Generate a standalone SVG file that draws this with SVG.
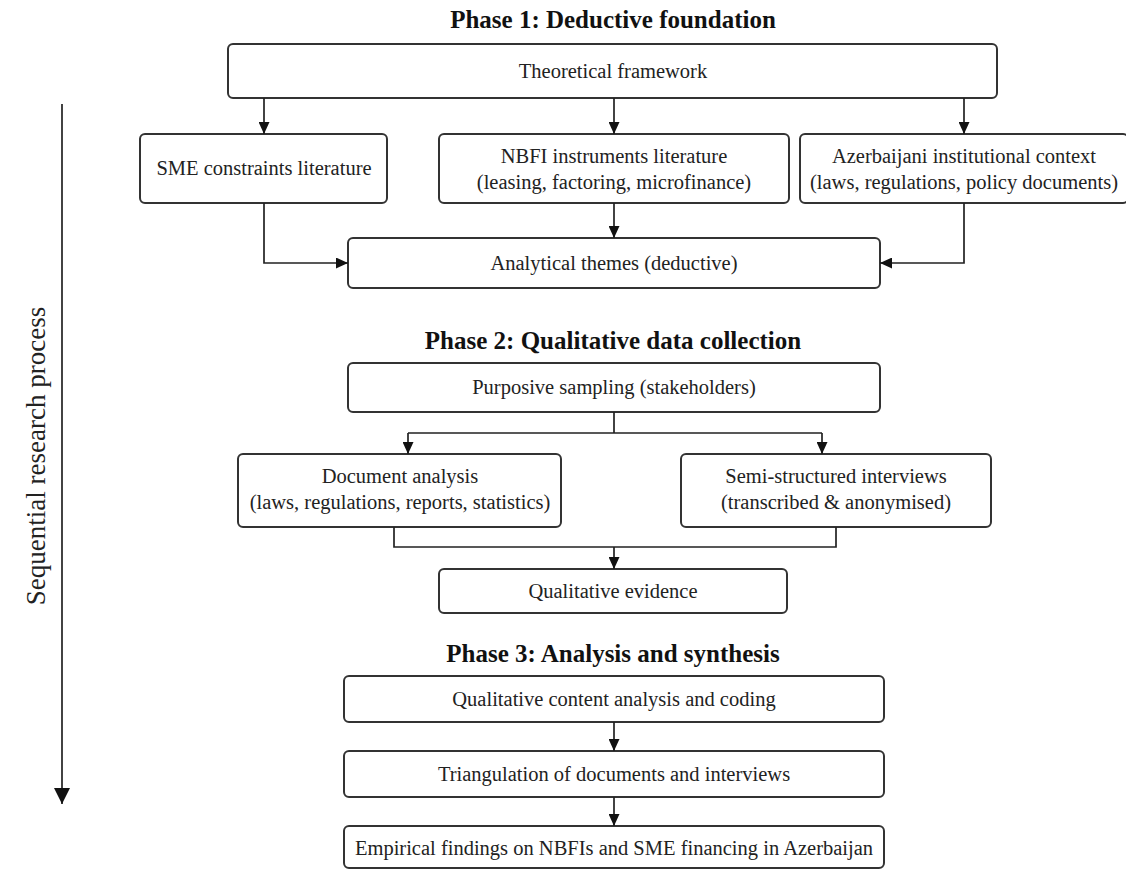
<svg xmlns="http://www.w3.org/2000/svg" width="1126" height="870" viewBox="0 0 1126 870">
<style>
.box{fill:#fff;stroke:#333;stroke-width:2}
.t{font-family:"Liberation Serif",serif;font-size:20.5px;fill:#222;text-anchor:middle}
.h{font-family:"Liberation Serif",serif;font-size:25px;font-weight:bold;fill:#111;text-anchor:middle}
.c{fill:none;stroke:#222;stroke-width:1.7}
</style>
<defs>
<marker id="ah" markerUnits="userSpaceOnUse" markerWidth="12" markerHeight="11" refX="12" refY="5.5" orient="auto">
<path d="M0,0 L12,5.5 L0,11 z" fill="#111"/>
</marker>
<marker id="ah2" markerUnits="userSpaceOnUse" markerWidth="16" markerHeight="16" refX="16" refY="8" orient="auto">
<path d="M0,0 L16,8 L0,16 z" fill="#111"/>
</marker>
</defs>
<rect width="1126" height="870" fill="#fff"/>
<text class="h" x="613" y="28">Phase 1: Deductive foundation</text>
<text class="h" x="613" y="349">Phase 2: Qualitative data collection</text>
<text class="h" x="613" y="662">Phase 3: Analysis and synthesis</text>
<g id="side">
<line x1="62" y1="104" x2="62" y2="804" class="c" stroke-width="2.5" marker-end="url(#ah2)"/>
<text class="t" style="font-size:27px" transform="translate(45,456) rotate(-90)">Sequential research process</text>
</g>
<g id="n-framework"><rect class="box" x="228" y="44" width="769" height="54" rx="5"/><text class="t" x="613" y="78">Theoretical framework</text></g>
<g id="n-sme"><rect class="box" x="140" y="134" width="247" height="69" rx="5"/><text class="t" x="264" y="175">SME constraints literature</text></g>
<g id="n-nbfi"><rect class="box" x="439" y="134" width="350" height="69" rx="5"/><text class="t" x="614" y="163">NBFI instruments literature</text><text class="t" x="614" y="189">(leasing, factoring, microfinance)</text></g>
<g id="n-azer"><rect class="box" x="800" y="134" width="328" height="69" rx="5"/><text class="t" x="964" y="163">Azerbaijani institutional context</text><text class="t" x="964" y="189">(laws, regulations, policy documents)</text></g>
<g id="n-themes"><rect class="box" x="348" y="238" width="532" height="50" rx="5"/><text class="t" x="614" y="270">Analytical themes (deductive)</text></g>
<g id="n-purposive"><rect class="box" x="348" y="363" width="532" height="49" rx="5"/><text class="t" x="614" y="394">Purposive sampling (stakeholders)</text></g>
<g id="n-doc"><rect class="box" x="238" y="454" width="323" height="73" rx="5"/><text class="t" x="400" y="483">Document analysis</text><text class="t" x="400" y="509">(laws, regulations, reports, statistics)</text></g>
<g id="n-semi"><rect class="box" x="681" y="454" width="310" height="73" rx="5"/><text class="t" x="836" y="483">Semi-structured interviews</text><text class="t" x="836" y="509">(transcribed &amp; anonymised)</text></g>
<g id="n-evidence"><rect class="box" x="439" y="569" width="348" height="44" rx="5"/><text class="t" x="613" y="598">Qualitative evidence</text></g>
<g id="n-coding"><rect class="box" x="344" y="676" width="540" height="46" rx="5"/><text class="t" x="614" y="706">Qualitative content analysis and coding</text></g>
<g id="n-triang"><rect class="box" x="344" y="751" width="540" height="46" rx="5"/><text class="t" x="614" y="781">Triangulation of documents and interviews</text></g>
<g id="n-findings"><rect class="box" x="344" y="826" width="540" height="42" rx="5"/><text class="t" x="614" y="855">Empirical findings on NBFIs and SME financing in Azerbaijan</text></g>
<g id="connectors">
<line class="c" x1="264" y1="98" x2="264" y2="134" marker-end="url(#ah)"/>
<line class="c" x1="614" y1="98" x2="614" y2="134" marker-end="url(#ah)"/>
<line class="c" x1="964" y1="98" x2="964" y2="134" marker-end="url(#ah)"/>
<path class="c" d="M264,203 V263 H348" marker-end="url(#ah)"/>
<line class="c" x1="614" y1="203" x2="614" y2="238" marker-end="url(#ah)"/>
<path class="c" d="M964,203 V263 H880" marker-end="url(#ah)"/>
<path class="c" d="M614,412 V433 M408,433 H822"/>
<line class="c" x1="408" y1="433" x2="408" y2="454" marker-end="url(#ah)"/>
<line class="c" x1="822" y1="433" x2="822" y2="454" marker-end="url(#ah)"/>
<path class="c" d="M394,527 V547 H836 V527"/>
<line class="c" x1="614" y1="547" x2="614" y2="569" marker-end="url(#ah)"/>
<line class="c" x1="614" y1="722" x2="614" y2="751" marker-end="url(#ah)"/>
<line class="c" x1="614" y1="797" x2="614" y2="826" marker-end="url(#ah)"/>
</g>
</svg>
